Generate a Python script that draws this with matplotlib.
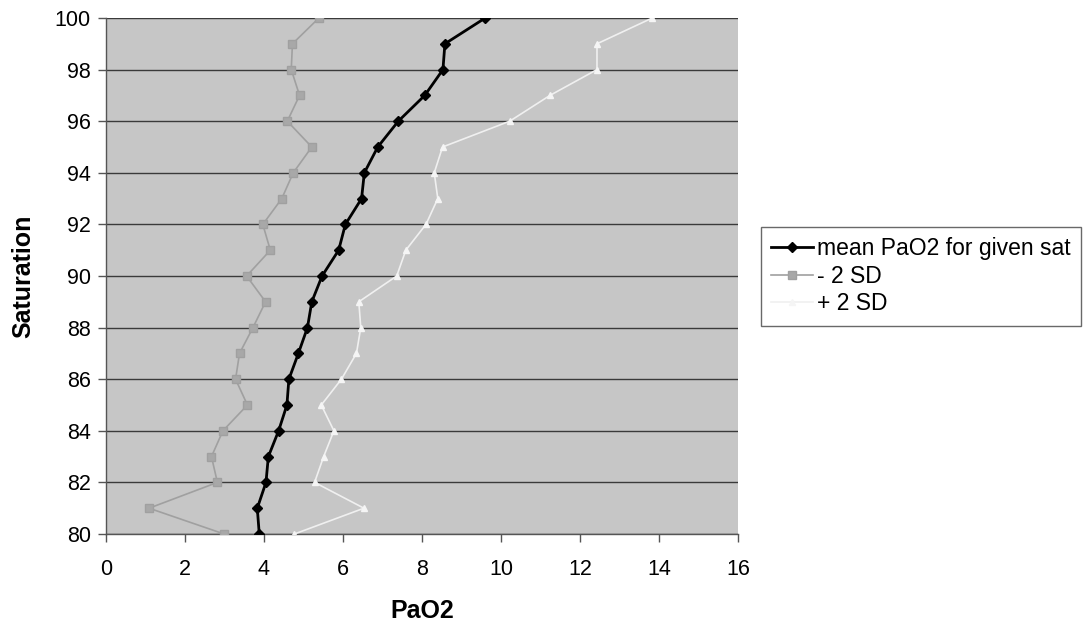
import numpy as np
import matplotlib.pyplot as plt

plt.rcParams['font.family'] = ['Liberation Sans', 'DejaVu Sans']

# saturation levels (y axis)
saturation = [80, 81, 82, 83, 84, 85, 86, 87, 88, 89, 90,
              91, 92, 93, 94, 95, 96, 97, 98, 99, 100]

# mean PaO2 for given saturation
mean_pao2 = [3.88, 3.83, 4.05, 4.11, 4.37, 4.58, 4.63, 4.87, 5.10, 5.21, 5.47,
             5.89, 6.06, 6.47, 6.54, 6.88, 7.40, 8.07, 8.53, 8.58, 9.60]

# mean - 2 SD
minus_2sd = [2.99, 1.09, 2.82, 2.67, 2.96, 3.58, 3.28, 3.38, 3.72, 4.04, 3.56,
             4.16, 3.97, 4.45, 4.74, 5.21, 4.59, 4.90, 4.69, 4.72, 5.39]

# mean + 2 SD
plus_2sd = [4.77, 6.53, 5.28, 5.51, 5.77, 5.45, 5.96, 6.34, 6.45, 6.40, 7.36,
            7.59, 8.10, 8.40, 8.31, 8.52, 10.22, 11.24, 12.43, 12.43, 13.83]

fig = plt.figure(figsize=(10.84, 6.28), dpi=100)
ax = fig.add_axes([106 / 1084, 1 - 534 / 628, (738 - 106) / 1084, (534 - 18) / 628])
ax.set_facecolor('#c6c6c6')

ax.plot(mean_pao2, saturation, '-', color='black', linewidth=2.0,
        marker='D', markersize=5.5, label='mean PaO2 for given sat', zorder=5)
ax.plot(minus_2sd, saturation, '-', color='#a0a0a0', linewidth=1.2,
        marker='s', markersize=6, markerfacecolor='#a8a8a8',
        markeredgecolor='#a0a0a0', label='- 2 SD', zorder=4)
ax.plot(plus_2sd, saturation, '-', color='#f0f0f0', linewidth=1.2,
        marker='^', markersize=5, markerfacecolor='#f5f5f5',
        markeredgecolor='#f5f5f5', label='+ 2 SD', zorder=4)

ax.set_xlim(0, 16)
ax.set_ylim(80, 100)
ax.set_xticks(np.arange(0, 17, 2))
ax.set_yticks(np.arange(80, 101, 2))
ax.grid(True, axis='y', color='#3a3a3a', linewidth=1.0)
ax.set_axisbelow(True)

for side in ['top', 'right']:
    ax.spines[side].set_visible(False)
for side in ['left', 'bottom']:
    ax.spines[side].set_color('#555555')
    ax.spines[side].set_linewidth(1.0)

ax.tick_params(axis='both', labelsize=15.5, direction='out', length=6,
               color='#555555', width=1.0)
ax.tick_params(axis='x', pad=12)
ax.tick_params(axis='y', pad=5)

ax.set_xlabel('PaO2', fontsize=18, fontweight='bold', labelpad=14)
ax.set_ylabel('Saturation', fontsize=18, fontweight='bold', labelpad=14)

leg = fig.legend(loc='upper left', bbox_to_anchor=(761 / 1084, 1 - 227 / 628),
                 fontsize=16.5, frameon=True, fancybox=False,
                 edgecolor='#444444', handlelength=1.8, handletextpad=0.2,
                 borderpad=0.45, labelspacing=0.2, borderaxespad=0)
leg.get_frame().set_linewidth(1.0)

fig.savefig('out.png', dpi=100)
